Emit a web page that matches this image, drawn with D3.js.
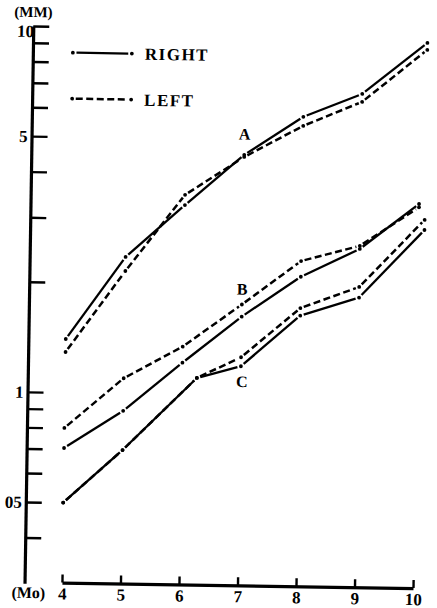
<!DOCTYPE html>
<html>
<head>
<meta charset="utf-8">
<script src="https://cdn.jsdelivr.net/npm/d3@7"></script>
<style>
  html, body { margin: 0; padding: 0; background: #fff; }
  svg { display: block; }
  text { font-family: "Liberation Serif", "Times New Roman", serif; font-weight: bold; fill: #000; }
</style>
</head>
<body>
<svg id="chart" width="437" height="608"></svg>
<script>
// Age in months (x axis ticks)
const months = [4, 5, 6, 7, 8, 9, 10];
// Diameter ticks on the log axis (MM)
const yTicks = [0.4, 0.5, 0.6, 0.7, 0.8, 0.9, 1, 2, 3, 4, 5, 6, 7, 8, 9, 10];
const yTickValuesLabelled = [10, 5, 1, 0.5];
const yTickTexts = ["10", "5", "1", "05"];

// Curve A
const aMonths = [4, 5, 6, 7, 8, 9, 10.1];
const aRight = [1.40, 2.36, 3.29, 4.54, 5.80, 6.74, 9.35];
const aLeft  = [1.29, 2.16, 3.51, 4.48, 5.48, 6.41, 8.95];

// Curve B
const bMonths = [4, 5, 6, 7, 8, 9, 10];
const bRight = [0.705, 0.896, 1.22, 1.64, 2.12, 2.54, 3.39];
const bLeft  = [0.80, 1.10, 1.35, 1.77, 2.34, 2.59, 3.32];

// Curve C
const cMonths = [4, 5, 6.25, 7, 8, 9, 10.1];
const cRight = [0.50, 0.70, 1.11, 1.20, 1.66, 1.87, 2.88];
const cLeft  = [0.50, 0.70, 1.11, 1.27, 1.74, 2.00, 3.07];

// Curve names placed next to the lines (month, value)
const curveNames = ["A", "B", "C"];
const curveNameMonths = [7.0, 7.0, 7.02];
const curveNameValues = [5.18, 1.95, 1.09];

const legendNames = ["RIGHT", "LEFT"];

const series = [
  { months: aMonths, values: aRight, dashed: false },
  { months: aMonths, values: aLeft,  dashed: true  },
  { months: bMonths, values: bRight, dashed: false },
  { months: bMonths, values: bLeft,  dashed: true  },
  { months: cMonths, values: cRight, dashed: false },
  { months: cMonths, values: cLeft,  dashed: true  }
];

const svg = d3.select("#chart");
svg.append("rect").attr("width", 437).attr("height", 608).attr("fill", "#fff");

// The whole figure sits slightly turned on the page
const root = svg.append("g").attr("transform", "rotate(0.9,220,300)");

const x = d3.scaleLinear().domain([4, 10]).range([66.4, 417.5]);
const y = d3.scaleLog().domain([0.3, 10]).range([586.2, 29]);
const yAxisX = 29;
const xAxisY = 585;

// Y axis: ticks point into the plot, labels on the left
const yAxis = d3.axisLeft(y)
  .tickValues(yTicks)
  .tickSize(-16)
  .tickSizeOuter(0)
  .tickPadding(4)
  .tickFormat(d => {
    const i = yTickValuesLabelled.findIndex(v => Math.abs(v - d) < 1e-9);
    return i >= 0 ? yTickTexts[i] : "";
  });
const gy = root.append("g").attr("transform", `translate(${yAxisX},0)`).call(yAxis);
gy.select(".domain").attr("stroke", "#000").attr("stroke-width", 3.2);
gy.selectAll(".tick line").attr("stroke", "#000").attr("stroke-width", 2.4);
gy.selectAll(".tick text").style("font-size", "17px").attr("fill", "#000");
// the top label sits a little lower, tucked against the axis
gy.selectAll(".tick text").filter(d => d === 10)
  .attr("x", 1).attr("dy", "0.62em");

// X axis: short upward ticks
const xAxis = d3.axisBottom(x)
  .tickValues(months)
  .tickSize(-8)
  .tickSizeOuter(0)
  .tickPadding(5)
  .tickFormat(d3.format("d"));
const gx = root.append("g").attr("transform", `translate(0,${xAxisY})`).call(xAxis);
gx.select(".domain").attr("stroke", "#000").attr("stroke-width", 3.2);
gx.selectAll(".tick line").attr("stroke", "#000").attr("stroke-width", 2.4);
gx.selectAll(".tick text").style("font-size", "17px").attr("fill", "#000");

// Unit labels
root.append("text").attr("x", 29).attr("y", 20).attr("text-anchor", "middle")
  .style("font-size", "15px").text("(MM)");
root.append("text").attr("x", 33).attr("y", 601).attr("text-anchor", "middle")
  .style("font-size", "16px").text("(Mo)");

// A line drawn as separate strokes between points, with a dot at each point
function drawBroken(g, pts, dashed) {
  const gap = 3.6;
  for (let i = 0; i < pts.length - 1; i++) {
    const [x0, y0] = pts[i], [x1, y1] = pts[i + 1];
    const len = Math.hypot(x1 - x0, y1 - y0);
    const ux = (x1 - x0) / len, uy = (y1 - y0) / len;
    g.append("line")
      .attr("x1", x0 + ux * gap).attr("y1", y0 + uy * gap)
      .attr("x2", x1 - ux * gap).attr("y2", y1 - uy * gap)
      .attr("stroke", "#000")
      .attr("stroke-width", dashed ? 2.5 : 2.3)
      .attr("stroke-dasharray", dashed ? "7,3.5" : null)
      .attr("stroke-linecap", "butt");
  }
  g.selectAll(null).data(pts).enter().append("circle")
    .attr("cx", d => d[0]).attr("cy", d => d[1]).attr("r", 1.9).attr("fill", "#000");
}

const linesG = root.append("g");
series.forEach(s => {
  const pts = s.months.map((m, i) => [x(m), y(s.values[i])]);
  drawBroken(linesG.append("g"), pts, s.dashed);
});

// Curve names
root.selectAll(".curve-name").data(curveNames).enter().append("text")
  .attr("class", "curve-name")
  .attr("x", (d, i) => x(curveNameMonths[i]))
  .attr("y", (d, i) => y(curveNameValues[i]))
  .attr("dy", "0.35em")
  .attr("text-anchor", "middle")
  .style("font-size", "16px")
  .text(d => d);

// Legend
const legendY = [55, 101];
legendNames.forEach((name, i) => {
  const lg = root.append("g");
  drawBroken(lg, [[69, legendY[i]], [128, legendY[i]]], i === 1);
  lg.append("text").attr("x", 141).attr("y", legendY[i] + 6)
    .style("font-size", "17px").style("letter-spacing", "1.5px").text(name);
});
</script>
</body>
</html>
